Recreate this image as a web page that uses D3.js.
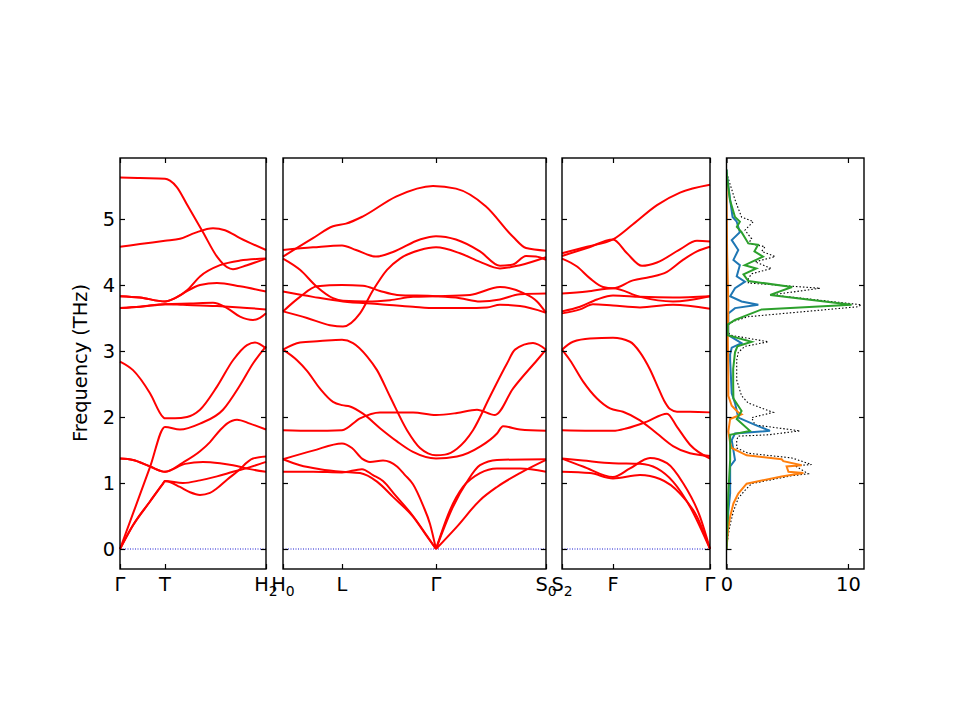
<!DOCTYPE html>
<html>
<head>
<meta charset="utf-8">
<script src="https://cdn.jsdelivr.net/npm/d3@7"></script>
<style>
  body { margin: 0; background: #fff; }
  text { font-family: "DejaVu Sans", sans-serif; }
</style>
</head>
<body>
<svg id="chart" width="960" height="720"></svg>
<script>
// phonon bands + DOS
// band points: [k, frequency THz], k = path distance within each panel

const yTickVals = [0, 1, 2, 3, 4, 5];

// panel 1: Γ - T - H2
const kmax1 = 146;
const labels1 = [[0, "Γ", ""], [45, "T", ""], [146, "H", "2"]];
const bands1 = [
  [[0,5.63],[20,5.62],[45,5.61],[50,5.58],[57,5.48],[67,5.22],[83,4.80],[97,4.43],[107,4.27],[113,4.24],[127,4.30],[146,4.40]],
  [[0,4.58],[20,4.62],[45,4.67],[60,4.70],[75,4.79],[93,4.86],[105,4.83],[120,4.71],[146,4.53]],
  [[0,3.83],[20,3.81],[45,3.75],[55,3.80],[67,3.92],[80,4.13],[100,4.30],[120,4.37],[146,4.40]],
  [[0,3.83],[20,3.81],[45,3.75],[55,3.80],[63,3.87],[80,4.00],[97,4.03],[120,3.98],[146,3.90]],
  [[0,3.65],[20,3.67],[45,3.71],[70,3.72],[93,3.73],[107,3.65],[120,3.52],[133,3.47],[140,3.50],[146,3.57]],
  [[0,3.65],[20,3.67],[45,3.71],[63,3.70],[97,3.68],[120,3.66],[146,3.63]],
  [[0,2.84],[13,2.71],[30,2.36],[43,2.00],[45,1.98],[55,1.98],[67,2.00],[80,2.11],[97,2.46],[113,2.86],[127,3.09],[135,3.13],[146,3.04]],
  [[0,0],[15,0.62],[30,1.24],[45,1.85],[60,1.81],[80,1.90],[103,2.11],[120,2.48],[133,2.81],[146,3.07]],
  [[0,1.37],[13,1.35],[30,1.25],[45,1.17],[63,1.31],[80,1.48],[90,1.62],[100,1.80],[107,1.90],[117,1.96],[130,1.90],[146,1.81]],
  [[0,1.37],[13,1.35],[30,1.25],[45,1.17],[65,1.29],[83,1.32],[100,1.30],[113,1.27],[130,1.21],[146,1.17]],
  [[0,0],[13,0.36],[30,0.72],[43,0.99],[45,1.03],[60,0.94],[70,0.86],[80,0.82],[90,0.85],[97,0.92],[107,1.05],[117,1.17],[133,1.37],[146,1.40]],
  [[0,0],[13,0.36],[30,0.72],[43,0.99],[45,1.03],[63,1.00],[80,1.04],[97,1.10],[113,1.17],[130,1.24],[146,1.32]]
];

// panel 2: H0 - L - Γ - S0
const kmax2 = 263;
const labels2 = [[0, "H", "0"], [59, "L", ""], [153, "Γ", ""], [263, "S", "0"]];
const bands2 = [
  [[0,4.43],[30,4.71],[50,4.89],[63,4.93],[80,5.04],[113,5.34],[150,5.50],[173,5.46],[203,5.19],[230,4.73],[243,4.56],[263,4.52]],
  [[0,4.53],[30,4.57],[59,4.60],[73,4.53],[93,4.43],[110,4.50],[137,4.69],[153,4.74],[173,4.69],[197,4.51],[217,4.29],[230,4.31],[243,4.44],[253,4.43],[263,4.38]],
  [[0,3.60],[24,3.50],[47,3.39],[60,3.37],[77,3.57],[90,3.92],[104,4.23],[117,4.40],[137,4.53],[153,4.57],[177,4.48],[197,4.35],[217,4.25],[237,4.30],[263,4.42]],
  [[0,4.40],[17,4.23],[34,3.97],[50,3.80],[60,3.76],[84,3.75],[107,3.77],[130,3.82],[153,3.83],[187,3.85],[217,3.97],[240,3.88],[254,3.75],[263,3.58]],
  [[0,3.60],[17,3.82],[34,3.98],[59,4.00],[80,3.99],[97,3.91],[114,3.85],[153,3.83],[177,3.80],[197,3.75],[217,3.78],[237,3.86],[263,3.87]],
  [[0,3.90],[30,3.82],[60,3.75],[97,3.71],[130,3.67],[153,3.65],[183,3.65],[204,3.66],[217,3.70],[237,3.68],[263,3.58]],
  [[0,3.02],[17,3.13],[37,3.15],[59,3.17],[70,3.12],[84,2.92],[94,2.71],[107,2.31],[124,1.80],[137,1.53],[145,1.45],[153,1.42],[162,1.43],[174,1.52],[190,1.80],[207,2.31],[224,2.81],[232,3.02],[250,3.12],[263,3.02]],
  [[0,3.02],[14,2.86],[24,2.70],[37,2.43],[50,2.23],[59,2.18],[67,2.16],[80,2.05],[97,1.83],[114,1.63],[130,1.47],[153,1.37],[174,1.40],[197,1.55],[214,1.75],[220,1.86],[237,1.81],[263,1.79]],
  [[0,1.80],[30,1.79],[59,1.80],[77,1.98],[97,2.07],[130,2.07],[153,2.03],[174,2.06],[194,2.11],[212,2.03],[230,2.43],[254,2.86],[263,3.02]],
  [[0,1.36],[30,1.49],[59,1.60],[69,1.53],[79,1.37],[87,1.32],[100,1.34],[114,1.25],[122,1.12],[130,0.98],[140,0.66],[147,0.38],[153,0]],
  [[0,1.36],[17,1.27],[37,1.21],[59,1.17],[77,1.15],[94,1.02],[110,0.79],[130,0.49],[144,0.19],[153,0]],
  [[0,1.17],[30,1.17],[59,1.16],[79,1.21],[90,1.12],[100,1.03],[112,0.82],[130,0.50],[144,0.20],[153,0]],
  [[153,0],[170,0.64],[184,1.02],[197,1.27],[214,1.35],[263,1.36]],
  [[153,0],[167,0.59],[180,0.94],[197,1.15],[214,1.22],[237,1.22],[263,1.17]],
  [[153,0],[174,0.34],[197,0.74],[214,0.94],[237,1.15],[263,1.35]]
];

// panel 3: S2 - F - Γ
const kmax3 = 148;
const labels3 = [[0, "S", "2"], [51, "F", ""], [148, "Γ", ""]];
const bands3 = [
  [[0,4.48],[25,4.58],[51,4.69],[71,4.92],[95,5.21],[118,5.40],[148,5.52]],
  [[0,4.44],[25,4.56],[51,4.69],[65,4.48],[80,4.29],[95,4.34],[118,4.54],[135,4.67],[148,4.66]],
  [[0,4.40],[15,4.28],[28,4.10],[41,3.97],[51,3.95],[71,4.07],[88,4.12],[105,4.20],[121,4.38],[135,4.51],[148,4.58]],
  [[0,3.87],[25,3.90],[51,3.95],[78,3.82],[111,3.75],[148,3.83]],
  [[0,3.60],[18,3.67],[35,3.78],[51,3.84],[78,3.82],[111,3.81],[148,3.83]],
  [[0,3.57],[18,3.63],[31,3.71],[51,3.69],[78,3.66],[111,3.70],[148,3.64]],
  [[0,3.02],[11,3.14],[28,3.19],[51,3.20],[68,3.14],[78,2.98],[88,2.72],[96,2.45],[102,2.25],[108,2.12],[115,2.08],[128,2.08],[148,2.07]],
  [[0,3.02],[8,2.86],[21,2.54],[35,2.28],[48,2.13],[61,2.08],[78,1.95],[95,1.75],[111,1.56],[128,1.45],[148,1.41]],
  [[0,1.80],[51,1.79],[65,1.83],[85,1.93],[105,2.05],[115,1.85],[128,1.58],[148,1.37]],
  [[0,1.37],[21,1.34],[51,1.30],[78,1.29],[95,1.22],[111,1.02],[128,0.64],[148,0]],
  [[0,1.37],[21,1.25],[51,1.09],[68,1.22],[88,1.38],[105,1.30],[121,1.00],[138,0.49],[148,0]],
  [[0,1.17],[28,1.15],[51,1.07],[78,1.12],[98,1.06],[118,0.84],[135,0.49],[148,0]]
];

// DOS: [frequency THz, states]
const dosTicks = [0, 10];
const dosTotal = [[5.75,0],[5.64,0.1],[5.29,0.7],[5.03,1.24],[4.96,2.21],[4.83,1.52],[4.70,2.07],[4.63,1.8],[4.58,3.17],[4.51,2.9],[4.43,4.0],[4.35,2.35],[4.25,3.7],[4.17,2.07],[4.10,1.8],[4.03,1.8],[3.95,7.7],[3.85,3.7],[3.70,11.1],[3.67,10.8],[3.52,1.8],[3.45,0.57],[3.40,0.15],[3.30,0.12],[3.24,0.3],[3.14,3.44],[3.07,1.52],[2.98,0.97],[2.86,0.84],[2.56,0.84],[2.32,1.24],[2.21,1.8],[2.07,3.85],[1.99,2.07],[1.88,2.35],[1.79,6.05],[1.73,3.44],[1.71,0.97],[1.65,0.84],[1.53,0.84],[1.45,1.8],[1.38,5.37],[1.28,7.0],[1.26,5.65],[1.14,6.73],[1.11,5.37],[0.99,2.07],[0.89,1.52],[0.77,0.97],[0.57,0.57],[0.37,0.3],[0.22,0.15],[0,0]];
const dosBlue = [[5.75,0],[5.64,0.05],[5.29,0.3],[5.03,0.5],[4.96,0.84],[4.80,1.1],[4.68,0.43],[4.53,0.97],[4.38,0.57],[4.30,1.1],[4.13,0.84],[4.05,1.52],[3.95,0.70],[3.83,0.3],[3.75,1.24],[3.70,2.62],[3.65,0.70],[3.57,0.15],[3.42,0.15],[3.24,0.15],[3.12,1.24],[3.05,0.43],[2.95,0.3],[2.86,0.3],[2.36,0.43],[2.21,0.70],[1.99,0.97],[1.88,2.35],[1.79,3.58],[1.75,0.70],[1.65,0.43],[1.35,0.70],[1.25,0.3],[0.84,0.3],[0.57,0.15],[0,0]];
const dosOrange = [[5.6,0],[4.5,0.05],[3.7,0.15],[3.3,0.1],[2.6,0.15],[2.32,0.15],[2.17,0.43],[2.07,0.97],[2.04,1.24],[2.0,0.70],[1.97,0.30],[1.78,0.15],[1.61,0.30],[1.53,0.43],[1.42,1.66],[1.36,4.54],[1.33,4.68],[1.27,6.19],[1.25,4.95],[1.17,5.1],[1.15,6.33],[1.10,4.54],[0.99,1.66],[0.84,0.97],[0.69,0.57],[0.49,0.30],[0.33,0.15],[0,0]];
const dosGreen = [[5.75,0],[5.64,0.05],[5.29,0.28],[5.03,0.7],[4.96,1.1],[4.88,0.85],[4.80,1.24],[4.63,1.8],[4.61,2.6],[4.51,2.3],[4.43,3.0],[4.30,1.5],[4.25,2.45],[4.16,1.4],[4.06,1.8],[3.97,5.4],[3.85,3.6],[3.70,10.3],[3.63,2.9],[3.55,1.8],[3.47,0.7],[3.40,0.1],[3.24,0.1],[3.14,2.07],[3.07,0.9],[2.98,0.7],[2.73,0.55],[2.5,0.55],[2.28,0.57],[2.09,1.24],[1.97,0.84],[1.79,1.93],[1.73,0.3],[1.5,0.3],[1.35,0.3],[0.84,0.15],[0.5,0.1],[0,0]];

const svg = d3.select("#chart");
const fontSize = 19.4;

const y = d3.scaleLinear().domain([-0.303, 5.924]).range([569, 158]);

const panels = [
    {x0: 120, x1: 266, kmax: kmax1, bands: bands1, labels: labels1},
    {x0: 283, x1: 546, kmax: kmax2, bands: bands2, labels: labels2},
    {x0: 562, x1: 710, kmax: kmax3, bands: bands3, labels: labels3}
];

function sideTicks(g, x0, x1, withLabels) {
    g.append("g")
        .attr("transform", `translate(${x0},0)`)
        .call(d3.axisLeft(y).tickValues(yTickVals).tickSizeInner(-5).tickSizeOuter(0)
            .tickPadding(5).tickFormat(withLabels ? d3.format("d") : () => ""))
        .call(a => a.select(".domain").remove());
    g.append("g")
        .attr("transform", `translate(${x1},0)`)
        .call(d3.axisRight(y).tickValues(yTickVals).tickSizeInner(-5).tickSizeOuter(0).tickFormat(() => ""))
        .call(a => a.select(".domain").remove());
}

panels.forEach((p, i) => {
    const x = d3.scaleLinear().domain([0, p.kmax]).range([p.x0, p.x1]);
    const g = svg.append("g");

    // zero line
    g.append("line")
        .attr("x1", p.x0).attr("x2", p.x1)
        .attr("y1", y(0)).attr("y2", y(0))
        .attr("stroke", "#0000cc").attr("stroke-width", 0.9)
        .attr("stroke-dasharray", "1,1.5");

    const line = d3.line()
        .x(d => x(d[0]))
        .y(d => y(d[1]))
        .curve(d3.curveMonotoneX);

    g.selectAll("path.band")
        .data(p.bands)
        .enter()
        .append("path")
        .attr("class", "band")
        .attr("d", line)
        .attr("fill", "none")
        .attr("stroke", "red")
        .attr("stroke-width", 2);

    // frame + ticks
    sideTicks(g, p.x0, p.x1, i === 0);
    const kTicks = p.labels.map(d => d[0]);
    g.append("g")
        .attr("transform", `translate(0,569)`)
        .call(d3.axisBottom(x).tickValues(kTicks).tickSizeInner(-5).tickSizeOuter(0).tickFormat(() => ""))
        .call(a => a.select(".domain").remove());
    g.append("g")
        .attr("transform", `translate(0,158)`)
        .call(d3.axisTop(x).tickValues(kTicks).tickSizeInner(-5).tickSizeOuter(0).tickFormat(() => ""))
        .call(a => a.select(".domain").remove());

    g.append("rect")
        .attr("x", p.x0).attr("y", 158)
        .attr("width", p.x1 - p.x0).attr("height", 569 - 158)
        .attr("fill", "none").attr("stroke", "black").attr("stroke-width", 1.4);

    // k-point labels
    p.labels.forEach(([k, main, sub]) => {
        const t = g.append("text")
            .attr("x", x(k))
            .attr("y", 591)
            .attr("text-anchor", "middle")
            .attr("font-size", fontSize);
        t.append("tspan").text(main);
        if (sub) {
            t.append("tspan").attr("dy", 5).attr("font-size", fontSize * 0.72).text(sub);
        }
    });
});

// DOS panel
const dx0 = 726.5, dx1 = 864;
const xd = d3.scaleLinear().domain([0, 11.32]).range([dx0, dx1]);
const dg = svg.append("g");

svg.append("clipPath").attr("id", "dosclip")
    .append("rect").attr("x", dx0).attr("y", 158).attr("width", dx1 - dx0).attr("height", 569 - 158);

const dosLine = d3.line().x(d => xd(d[1])).y(d => y(d[0]));
const series = [
    {data: dosTotal, color: "black", width: 1.1, dash: "1.5,2"},
    {data: dosBlue, color: "#1f77b4", width: 2, dash: null},
    {data: dosOrange, color: "#ff7f0e", width: 2, dash: null},
    {data: dosGreen, color: "#2ca02c", width: 2, dash: null}
];
dg.append("g").attr("clip-path", "url(#dosclip)")
    .selectAll("path")
    .data(series)
    .enter()
    .append("path")
    .attr("d", d => dosLine(d.data))
    .attr("fill", "none")
    .attr("stroke", d => d.color)
    .attr("stroke-width", d => d.width)
    .attr("stroke-dasharray", d => d.dash);

sideTicks(dg, dx0, dx1, false);
dg.append("g")
    .attr("transform", `translate(0,569)`)
    .call(d3.axisBottom(xd).tickValues(dosTicks).tickSizeInner(-5).tickSizeOuter(0).tickPadding(8).tickFormat(d3.format("d")))
    .call(a => a.select(".domain").remove());
dg.append("g")
    .attr("transform", `translate(0,158)`)
    .call(d3.axisTop(xd).tickValues(dosTicks).tickSizeInner(-5).tickSizeOuter(0).tickFormat(() => ""))
    .call(a => a.select(".domain").remove());
dg.append("rect")
    .attr("x", dx0).attr("y", 158)
    .attr("width", dx1 - dx0).attr("height", 569 - 158)
    .attr("fill", "none").attr("stroke", "black").attr("stroke-width", 1.4);

// axis font styling
svg.selectAll(".tick text")
    .attr("font-size", fontSize)
    .attr("font-family", "DejaVu Sans")
    .attr("fill", "black");
svg.selectAll(".tick line").attr("stroke", "black").attr("stroke-width", 1.2);

// y label
svg.append("text")
    .attr("transform", "translate(87,363) rotate(-90)")
    .attr("text-anchor", "middle")
    .attr("font-size", fontSize)
    .text("Frequency (THz)");
</script>
</body>
</html>
